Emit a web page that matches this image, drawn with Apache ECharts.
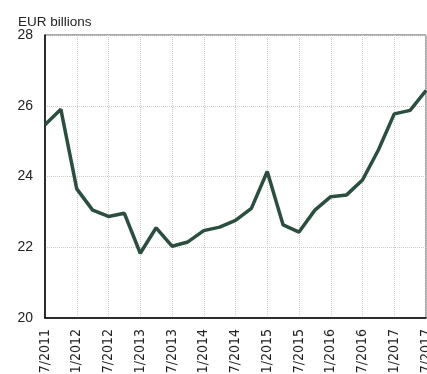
<!DOCTYPE html>
<html>
<head>
<meta charset="utf-8">
<script src="https://cdn.jsdelivr.net/npm/echarts@6/dist/echarts.min.js"></script>
<style>
  html, body { margin: 0; padding: 0; background: #fff; }
  #chart { width: 427px; height: 374px; }
</style>
</head>
<body>
<div id="chart"></div>
<script>
// quarterly periods, 07/2011 .. 07/2017
var periodos = ["07/2011", "10/2011", "01/2012", "04/2012", "07/2012", "10/2012", "01/2013", "04/2013",
  "07/2013", "10/2013", "01/2014", "04/2014", "07/2014", "10/2014", "01/2015", "04/2015",
  "07/2015", "10/2015", "01/2016", "04/2016", "07/2016", "10/2016", "01/2017", "04/2017", "07/2017"];
var valores = [25.46, 25.9, 23.65, 23.05, 22.87, 22.96, 21.83, 22.55,
  22.03, 22.15, 22.47, 22.57, 22.76, 23.1, 24.14, 22.63,
  22.43, 23.05, 23.43, 23.48, 23.9, 24.75, 25.77, 25.87, 26.43];
var ejeY = { min: 20, max: 28, interval: 2 };

var option = {
  animation: false,
  title: {
    text: "EUR billions",
    left: 13,
    top: 10,
    textStyle: { fontFamily: "Liberation Sans", fontSize: 13.5, fontWeight: "normal", color: "#222" }
  },
  grid: {
    left: 45, right: 1, top: 35, bottom: 56,
    outerBoundsMode: "none",
    show: true, borderColor: "#555", borderWidth: 1
  },
  xAxis: {
    type: "category",
    data: periodos,
    boundaryGap: false,
    axisLine: { lineStyle: { color: "#000", width: 1.5 } },
    axisTick: { show: false },
    axisLabel: {
      interval: 1,
      rotate: 90,
      margin: 11,
      fontFamily: "DejaVu Sans Condensed",
      fontSize: 14,
      color: "#222"
    },
    splitLine: { show: true, interval: 1, lineStyle: { color: "#ccc", type: "dotted", width: 1 } }
  },
  yAxis: {
    type: "value",
    min: ejeY.min,
    max: ejeY.max,
    interval: ejeY.interval,
    axisLine: { show: true, lineStyle: { color: "#000", width: 1.5 } },
    axisTick: { show: false },
    axisLabel: { margin: 12, fontFamily: "Liberation Sans", fontSize: 14, color: "#222" },
    splitLine: { show: true, lineStyle: { color: "#ccc", type: "dotted", width: 1 } }
  },
  series: [
    {
      type: "line",
      data: valores,
      symbol: "none",
      lineStyle: { color: "#2b4e3f", width: 3.5 }
    }
  ]
};

var myChart = echarts.init(document.getElementById("chart"));
myChart.setOption(option);
</script>
</body>
</html>
